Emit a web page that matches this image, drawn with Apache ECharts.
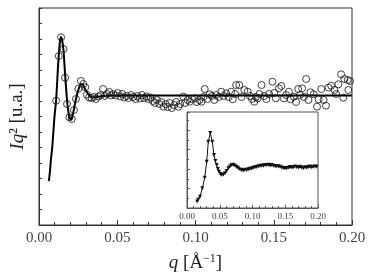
<!DOCTYPE html>
<html>
<head>
<meta charset="utf-8">
<script src="https://cdn.jsdelivr.net/npm/echarts@6/dist/echarts.min.js"></script>
<style>html,body{margin:0;padding:0;background:#fff;}#c{width:374px;height:280px;}</style>
</head>
<body>
<div id="c"></div>
<script>
// Main plot: measured points (open circles), q in 1/Å, Iq^2 in arbitrary units
const dataQ = [0.01095,0.01266,0.01411,0.01563,0.01665,0.01791,0.01943,0.02089,0.02234,0.02361,0.02513,0.02677,0.02829,0.02956,
0.03057,0.03196,0.03354,0.03513,0.03639,0.03797,0.03956,0.04095,0.04209,0.04335,0.04494,0.04620,0.04747,0.04905,0.05032,0.05190,
0.05316,0.05443,0.05601,0.05728,0.05886,0.06013,0.06171,0.06297,0.06456,0.06582,0.06709,0.06867,0.06994,0.07120,0.07278,0.07405,
0.07532,0.07690,0.07816,0.07956,0.08101,0.08228,0.08354,0.08481,0.08639,0.08766,0.08905,0.09019,0.09222,0.09335,0.09494,0.09639,
0.09778,0.09956,0.10095,0.10253,0.10380,0.10506,0.10589,0.10759,0.10905,0.11044,0.11203,0.11329,0.11487,0.11646,0.11804,0.11962,
0.12120,0.12278,0.12386,0.12532,0.12595,0.12804,0.12943,0.13120,0.13335,0.13481,0.13608,0.13753,0.13861,0.13968,0.14082,0.14222,
0.14386,0.14525,0.14703,0.14918,0.15032,0.15127,0.15335,0.15487,0.15652,0.15791,0.15968,0.16076,0.16285,0.16424,0.16563,0.16677,
0.16816,0.16930,0.17070,0.17215,0.17342,0.17551,0.17766,0.17867,0.18038,0.18184,0.18335,0.18500,0.18671,0.18880,0.18987,0.19133,
0.19304,0.19449,0.19513,0.19728,0.19766,0.19873];
const dataI = [124.3,169,187.7,176,147.3,121,107.7,106,115,126,136.3,144,141,137.7,
130.3,127.5,127,128,126,128.5,130,136,129,131,133,129.5,131,129.5,132,128.5,
131,127.5,129,127,130,128,126,129,126.5,130,127,128.5,126,127.5,124,122,
125,121,123,118.3,121,118,122,117,120,123,118.3,121,128.3,122,125,123.3,
126,126.7,123,125,123.3,128,136,126,130.7,129,125,130,128,133.3,129,131.7,
128,133.3,125.7,131,140,140,128,135,133.3,129,126,123.3,128,126.7,131,140,
129,126,131,143.3,132,126.7,136.7,139,126.7,130,133.3,125.7,128.3,123,136,130,
136.7,128,146,125,132.7,130.7,118.3,125.7,136,125,119.3,137.3,139.3,135,131,140.7,
150.7,127.3,146,145,135,144];

// Main plot: fitted curve (solid line)
const fitQ = [0.00633,0.00696,0.00759,0.00842,0.00918,0.00994,0.01095,0.01203,0.01297,0.01361,0.01411,0.01475,0.01563,0.01665,
0.01791,0.01880,0.01962,0.02044,0.02120,0.02234,0.02361,0.02513,0.02639,0.02740,0.02848,0.02975,0.03133,0.03291,0.03481,0.03734,
0.04051,0.04684,0.20000];
const fitI = [44,53,65,77,93,109,125,155,177,186,188,185,175,151,
125,113,107,105.5,108,116,126,135,140,141,139,135,131,128.5,127.5,128,
129,129.4,129.4];

// Inset: curve with triangle markers
const insetQ = [0.0155,0.0172,0.0198,0.0234,0.0270,0.0301,0.0325,0.0356,0.0386,0.0412,0.0433,0.0453,0.0472,0.0489,0.0510,0.0530,
0.0555,0.0580,0.0605,0.0631,0.0656,0.0682,0.0708,0.0733,0.0758,0.0783,0.0810,0.0835,0.0860,0.0885,0.0911,0.0936,0.0962,0.0987,
0.1012,0.1038,0.1063,0.1089,0.1115,0.1140,0.1166,0.1191,0.1217,0.1242,0.1268,0.1293,0.1318,0.1344,0.1369,0.1395,0.1420,0.1446,
0.1471,0.1497,0.1522,0.1548,0.1573,0.1598,0.1623,0.1649,0.1674,0.1700,0.1725,0.1751,0.1776,0.1802,0.1827,0.1853,0.1878,0.1904,
0.1929,0.1955,0.1980];
const insetI = [6.5,8.5,11.3,19.7,30.3,46.3,66.3,75,66.3,53,47,43,39,36.3,34,33,
33.5,34.7,37,39.7,41.5,43,43.3,42.3,41,39.7,38.5,38,37.5,38.2,38,38.8,39.3,39.5,
40.3,40.8,41,41.8,42,42.5,42.3,43,43,43.2,42.6,43,42.3,42,41.5,41.8,41.3,40.5,
40,39.8,39.7,40.2,41,40.5,40.7,41.5,41,40.6,41.3,40.4,39.8,40.7,40.3,41,41.5,40.8,
41.2,41.6,41.3];

const xTickLabels = ['0.00','0.05','0.10','0.15','0.20'];

const zip = (a, b) => a.map((v, i) => [v, b[i]]);
const fmt = v => { const i = Math.round(v / 0.05); return xTickLabels[i] !== undefined && Math.abs(v - i*0.05) < 1e-9 ? xTickLabels[i] : ''; };
const serif = 'Liberation Serif';

const chart = echarts.init(document.getElementById('c'), null, {renderer: 'canvas'});
chart.setOption({
  animation: false,
  backgroundColor: '#fff',
  grid: [
    {left: 36, top: 8, width: 316, height: 217, show: true, borderColor: '#333', borderWidth: 1, backgroundColor: 'transparent'},
    {left: 187, top: 112, width: 131, height: 96, show: true, borderColor: '#555', borderWidth: 1, backgroundColor: '#fff'}
  ],
  xAxis: [
    {gridIndex: 0, type: 'value', min: 0, max: 0.2, interval: 0.05,
     axisLine: {show: true, lineStyle: {color: '#333', width: 1}},
     axisTick: {show: true, inside: true, length: 5, lineStyle: {color: '#333'}},
     minorTick: {show: true, splitNumber: 5, length: 3, lineStyle: {color: '#333'}},
     splitLine: {show: false},
     axisLabel: {formatter: fmt, color: '#444', fontFamily: serif, fontSize: 15, margin: 6},
     name: '{it|q} [Å{sup|−1}]', nameLocation: 'middle', nameGap: 28,
     nameTextStyle: {fontFamily: serif, fontSize: 19, color: '#222',
       rich: {it: {fontFamily: serif, fontSize: 19, fontStyle: 'italic', color: '#222'},
              sup: {fontFamily: serif, fontSize: 12, color: '#222', verticalAlign: 'top', padding: [0,0,8,0]}}}},
    {gridIndex: 1, type: 'value', min: 0, max: 0.2, interval: 0.05,
     axisLine: {show: true, lineStyle: {color: '#555', width: 1}},
     axisTick: {show: true, inside: true, length: 3, lineStyle: {color: '#555'}},
     minorTick: {show: true, splitNumber: 5, length: 2, lineStyle: {color: '#555'}},
     splitLine: {show: false},
     axisLabel: {formatter: fmt, color: '#444', fontFamily: serif, fontSize: 9, margin: 4}}
  ],
  yAxis: [
    {gridIndex: 0, type: 'value', min: 0, max: 217, interval: 15.5,
     axisLine: {show: true, lineStyle: {color: '#333', width: 1}},
     axisTick: {show: true, inside: true, length: 3, lineStyle: {color: '#333'}},
     splitLine: {show: false},
     axisLabel: {show: false},
     name: '{it|Iq}² [u.a.]', nameLocation: 'middle', nameGap: 12, nameRotate: 90,
     nameTextStyle: {fontFamily: serif, fontSize: 19, color: '#222',
       rich: {it: {fontFamily: serif, fontSize: 19, fontStyle: 'italic', color: '#222'}}}},
    {gridIndex: 1, type: 'value', min: 0, max: 96, interval: 19.5,
     axisLine: {show: true, lineStyle: {color: '#555', width: 1}},
     axisTick: {show: true, inside: true, length: 3, lineStyle: {color: '#555'}},
     minorTick: {show: true, splitNumber: 2, length: 2, lineStyle: {color: '#555'}},
     splitLine: {show: false},
     axisLabel: {show: false}}
  ],
  series: [
    {type: 'line', xAxisIndex: 0, yAxisIndex: 0, data: zip(fitQ, fitI), smooth: 0.3,
     showSymbol: false, lineStyle: {color: '#000', width: 2}, z: 2},
    {type: 'scatter', xAxisIndex: 0, yAxisIndex: 0, data: zip(dataQ, dataI), symbol: 'circle', symbolSize: 7,
     itemStyle: {color: 'rgba(0,0,0,0)', borderColor: '#111', borderWidth: 1}, z: 3},
    {type: 'line', xAxisIndex: 1, yAxisIndex: 1, data: zip(insetQ, insetI),
     symbol: 'triangle', symbolSize: 4, symbolRotate: 180, showAllSymbol: true,
     itemStyle: {color: '#111'}, lineStyle: {color: '#111', width: 1}, z: 5}
  ]
});
</script>
</body>
</html>
